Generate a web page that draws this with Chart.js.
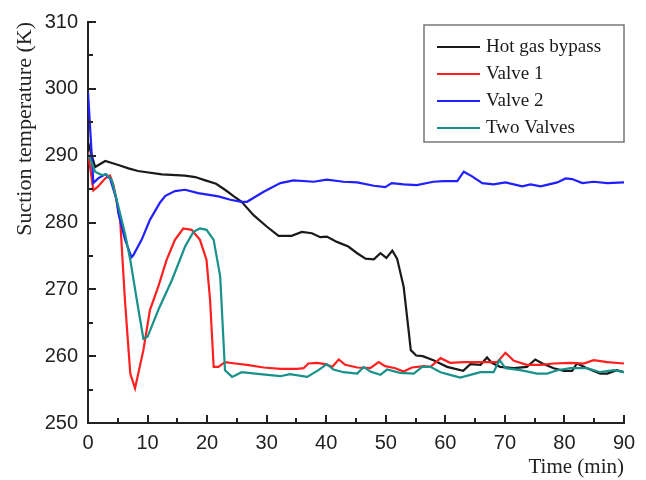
<!DOCTYPE html>
<html>
<head>
<meta charset="utf-8">
<script src="https://cdn.jsdelivr.net/npm/chart.js@4.4.0/dist/chart.umd.min.js"></script>
<style>
  html, body { margin: 0; padding: 0; background: #fff; }
  canvas { display: block; }
</style>
</head>
<body>
<canvas id="myChart" width="646" height="480"></canvas>
<script>
// [time (min), suction temperature (K)]
const hotGas = [[0,292],[1.2,288.3],[2.9,289.2],[5.1,288.6],[6.8,288.1],[8.4,287.7],[12.4,287.2],[16.3,287.0],[18,286.8],
  [19.7,286.3],[21.5,285.8],[23,284.9],[24.5,283.9],[25.8,283.1],[27.8,281.1],[30,279.4],[32,278],[34.2,278],
  [35.9,278.6],[37.6,278.4],[39,277.8],[40.1,277.9],[41.8,277.1],[43.7,276.4],[45.2,275.4],[46.6,274.6],[48,274.5],
  [49.1,275.4],[50.1,274.7],[51.1,275.8],[51.9,274.6],[53,270.4],[53.7,264.9],[54.2,260.9],[55.1,260.1],[56.2,260.0],
  [58,259.4],[60.3,258.4],[63,257.8],[64.2,258.8],[65.9,258.7],[67,259.8],[67.8,259.0],[69.2,258.4],[71.5,258.2],
  [73.7,258.4],[75.1,259.5],[76.3,258.9],[78.2,258.2],[79.9,257.8],[81.3,257.8],[82.1,258.9],[83.8,258.2],[86,257.4],
  [87.2,257.4],[88.8,257.9],[90,257.6]];
const valve1 = [[0,290.5],[0.9,284.8],[1.7,285.4],[2.9,286.6],[3.7,287],[4.3,285.5],[5.4,280.4],[6.2,268.4],[7.1,257.4],
  [7.9,255.2],[9.3,260.9],[10.4,266.9],[11.8,270.4],[13.2,274.4],[14.6,277.4],[16,279.1],[17.4,278.9],[18.8,277.4],
  [19.9,274.4],[20.5,268.4],[21.1,258.4],[21.9,258.4],[23,259.1],[24.7,258.9],[26.7,258.7],[29.5,258.3],[32.3,258.1],
  [35.1,258.1],[36.2,258.2],[37,258.9],[38.4,259],[39.8,258.8],[41,258.4],[42.1,259.5],[43.2,258.7],[45.2,258.3],
  [47.4,258.2],[48.8,259.1],[49.9,258.5],[51.6,258.2],[53,257.7],[54.4,258.3],[56.4,258.5],[57.5,258.4],[59.2,259.7],
  [60.8,259.0],[63.1,259.1],[65.9,259.1],[68.7,259.1],[70.1,260.5],[71.5,259.3],[73.7,258.7],[76,258.7],[78.2,258.9],
  [81,259.0],[83.2,258.9],[84.9,259.4],[87.2,259.1],[90,258.9]];
const valve2 = [[0,299.5],[0.9,285.9],[1.7,286.6],[2.9,287.2],[3.7,286.6],[4.8,283.4],[5.1,281.4],[6.2,277.5],[7.3,274.8],
  [7.6,275.1],[9,277.4],[10.4,280.4],[12.1,283],[13,284],[14.6,284.7],[16.3,284.9],[18.5,284.4],[21.9,283.9],
  [23.9,283.4],[25.8,283.1],[26.7,283.1],[29.5,284.6],[32.3,285.9],[34.5,286.3],[37.9,286.1],[40.1,286.4],[42.9,286.1],
  [45.2,286.0],[48,285.5],[49.9,285.3],[51,285.9],[53,285.7],[55.2,285.6],[58,286.1],[59.7,286.2],[62,286.2],
  [63.1,287.6],[64.5,286.9],[66.2,285.9],[68.1,285.7],[70.1,286.0],[72.9,285.4],[74.3,285.7],[76,285.4],[78.8,286.0],
  [80.2,286.6],[81.3,286.5],[83,285.9],[84.9,286.1],[87.2,285.9],[90,286.0]];
const twoValves = [[0,290.3],[1.2,287.6],[2.3,287.1],[3.1,287.2],[4,286.3],[5.1,282.4],[6.2,278.4],[7.1,274.4],[8.2,268.4],
  [9.3,262.6],[10,262.9],[11.8,266.9],[14.1,271.4],[16.3,276.4],[17.7,278.6],[18.8,279.1],[19.9,278.9],[21.1,277.4],
  [22.2,271.9],[23,257.9],[24.2,256.9],[25.8,257.6],[28.9,257.3],[32.3,257.0],[33.9,257.3],[36.8,256.9],[38.7,257.9],
  [40.1,258.8],[41.2,258.0],[42.9,257.6],[45.2,257.4],[46.3,258.4],[47.4,257.7],[49.1,257.2],[50.2,258.0],[52.4,257.5],
  [54.7,257.4],[56.1,258.4],[57.5,258.4],[59.2,257.6],[60.8,257.2],[62.5,256.8],[64.2,257.2],[65.9,257.6],[68.1,257.6],
  [69.1,259.4],[70.1,258.2],[72.6,257.9],[75.4,257.4],[77.1,257.4],[78.8,257.9],[81,258.2],[83.8,258.2],[86,257.6],
  [88.3,257.9],[90,257.6]];

const seriesNames = ['Hot gas bypass', 'Valve 1', 'Valve 2', 'Two Valves'];
const seriesData = [hotGas, valve1, valve2, twoValves];
const seriesColors = ['#1a1a1a', '#ff1f1f', '#1f1fff', '#17918a'];

const xMin = 0, xMax = 90, xStep = 10;
const yMin = 250, yMax = 310, yStep = 10;

const sans = '"Liberation Sans", Arial, sans-serif';
const serif = '"Liberation Serif", "Times New Roman", serif';

// inward major/minor ticks like the original plot
const innerTicks = {
  id: 'innerTicks',
  afterDraw(chart) {
    const c = chart.ctx;
    const x = chart.scales.x, y = chart.scales.y;
    const a = chart.chartArea;
    c.save();
    c.strokeStyle = '#222';
    c.lineWidth = 2;
    c.beginPath();
    for (let v = xMin; v <= xMax; v += xStep / 2) {
      const px = Math.round(x.getPixelForValue(v));
      const len = v % xStep === 0 ? 8 : 5;
      c.moveTo(px, a.bottom);
      c.lineTo(px, a.bottom - len);
    }
    for (let v = yMin; v <= yMax; v += yStep / 2) {
      const py = Math.round(y.getPixelForValue(v));
      const len = v % yStep === 0 ? 8 : 5;
      c.moveTo(a.left, py);
      c.lineTo(a.left + len, py);
    }
    c.stroke();
    c.restore();
  }
};

// framed legend in the upper right corner
const boxLegend = {
  id: 'boxLegend',
  afterDraw(chart) {
    const c = chart.ctx;
    const a = chart.chartArea;
    const w = 200, h = 117;
    const left = a.right - w, top = a.top + 3;
    c.save();
    c.fillStyle = '#fff';
    c.fillRect(left, top, w, h);
    c.strokeStyle = '#777';
    c.lineWidth = 1.5;
    c.strokeRect(left, top, w, h);
    c.font = '19px ' + serif;
    c.textBaseline = 'middle';
    chart.data.datasets.forEach((ds, i) => {
      const yy = top + 22 + i * 27;
      c.strokeStyle = ds.borderColor;
      c.lineWidth = 2;
      c.beginPath();
      c.moveTo(left + 13, yy);
      c.lineTo(left + 56, yy);
      c.stroke();
      c.fillStyle = '#1a1a1a';
      c.fillText(ds.label, left + 62, yy);
    });
    c.restore();
  }
};

new Chart(document.getElementById('myChart'), {
  type: 'line',
  data: {
    datasets: seriesData.map((d, i) => ({
      label: seriesNames[i],
      data: d.map(p => ({ x: p[0], y: p[1] })),
      borderColor: seriesColors[i],
      backgroundColor: seriesColors[i],
      borderWidth: 2.2,
      pointRadius: 0,
      tension: 0,
      fill: false,
      order: seriesNames.length - i
    }))
  },
  options: {
    responsive: false,
    devicePixelRatio: 1,
    animation: false,
    layout: { padding: { top: 22, right: 22, left: 0, bottom: 0 } },
    plugins: {
      legend: { display: false },
      tooltip: { enabled: false }
    },
    scales: {
      x: {
        type: 'linear',
        min: xMin,
        max: xMax,
        afterFit(s) { s.height = 57; },
        grid: { display: false, drawTicks: false },
        border: { display: true, color: '#222', width: 2 },
        ticks: { stepSize: xStep, padding: 8, color: '#222', font: { family: sans, size: 20 } },
        title: { display: true, text: 'Time (min)', align: 'end', color: '#222',
                 font: { family: serif, size: 21 }, padding: { top: 1, bottom: 0 } }
      },
      y: {
        min: yMin,
        max: yMax,
        afterFit(s) { s.width = 88; },
        grid: { display: false, drawTicks: false },
        border: { display: true, color: '#222', width: 2 },
        ticks: { stepSize: yStep, padding: 10, color: '#222', font: { family: sans, size: 20 } },
        title: { display: true, text: 'Suction temperature (K)', align: 'end', color: '#222',
                 font: { family: serif, size: 22 }, padding: { top: 12, bottom: 0 } }
      }
    }
  },
  plugins: [innerTicks, boxLegend]
});
</script>
</body>
</html>
